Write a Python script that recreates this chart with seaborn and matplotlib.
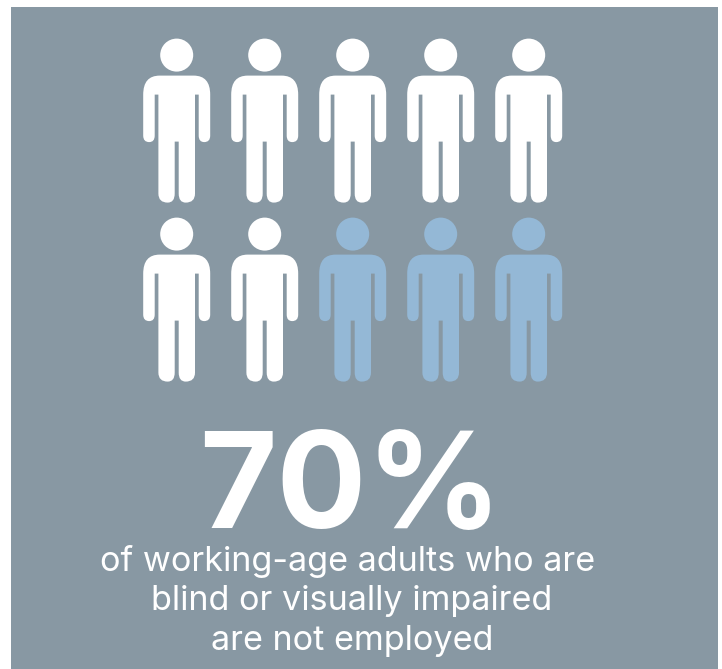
import matplotlib
matplotlib.use("Agg")
import matplotlib.pyplot as plt
from matplotlib.path import Path
import pandas as pd
import seaborn as sns

# Ten people, two rows of five
columns = [1, 2, 3, 4, 5, 1, 2, 3, 4, 5]
rows = [1, 1, 1, 1, 1, 2, 2, 2, 2, 2]
status = ["not employed"] * 7 + ["employed"] * 3
headline = "70%"
caption_lines = ["of working-age adults who are",
                 "blind or visually impaired",
                 "are not employed"]

W, H, DPI = 722, 669, 100
PANEL = "#8898a3"
colors = {"not employed": "#ffffff", "employed": "#94b8d6"}


def person_marker():
    """Standing figure, drawn in pixels around its own centre (y up)."""
    M, L, C, Z = Path.MOVETO, Path.LINETO, Path.CURVE3, Path.CLOSEPOLY
    outline = [
        (M, (-17, 45)), (L, (17, 45)),
        (C, (33.5, 45)), (C, (33.5, 26)),
        (L, (33.5, -15)),
        (C, (33.5, -21.5)), (C, (27.5, -21.5)),
        (C, (22, -21.5)), (C, (22, -15)),
        (L, (22, 26)), (L, (18.3, 26)),
        (L, (18.3, -73)),
        (C, (18.3, -82)), (C, (9, -82)),
        (C, (2, -82)), (C, (2, -73)),
        (L, (2, -21)), (L, (-2, -21)),
        (L, (-2, -73)),
        (C, (-2, -82)), (C, (-9, -82)),
        (C, (-18.3, -82)), (C, (-18.3, -73)),
        (L, (-18.3, 26)), (L, (-22, 26)),
        (L, (-22, -15)),
        (C, (-22, -21.5)), (C, (-27.5, -21.5)),
        (C, (-33.5, -21.5)), (C, (-33.5, -15)),
        (L, (-33.5, 26)),
        (C, (-33.5, 45)), (C, (-17, 45)),
        (Z, (-17, 45)),
    ]
    body = Path([p for _, p in outline], [c for c, _ in outline])
    head = Path.circle((0, 65.5), 16.5)
    return Path.make_compound_path(body, head)


people = pd.DataFrame({"column": columns, "row": rows, "status": status})

sns.set_theme(style="white")
plt.rcParams["font.family"] = ["Inter", "DejaVu Sans"]

fig = plt.figure(figsize=(W / DPI, H / DPI), dpi=DPI, facecolor="white")

# Panel spans x 11-718 and y 7-669 in pixels; the limits set the icon pitch
left, right, top, bottom = 11, 718, 7, 669
ax = fig.add_axes([left / W, 1 - bottom / H, (right - left) / W, (bottom - top) / H])
ax.set_facecolor(PANEL)
pitch_x, pitch_y = 88.0, 179.0
x0, y0 = 176.7, 120.6
ax.set_xlim(1 + (left - x0) / pitch_x, 1 + (right - x0) / pitch_x)
ax.set_ylim(1 + (bottom - y0) / pitch_y, 1 + (top - y0) / pitch_y)

icon_pts = 164 * 72 / DPI
sns.scatterplot(data=people, x="column", y="row", hue="status", palette=colors,
                marker=person_marker(), s=icon_pts ** 2, linewidth=0,
                legend=False, ax=ax, clip_on=False)
ax.set(xticks=[], yticks=[], xlabel="", ylabel="")
sns.despine(ax=ax, left=True, bottom=True)

fig.text(350.5 / W, 1 - 528 / H, headline, color="white", ha="center",
         va="baseline", fontsize=96, fontweight="bold")
for text, base, cx in zip(caption_lines, [571, 610, 650], [348, 352, 352]):
    fig.text(cx / W, 1 - base / H, text, color="white", ha="center",
             va="baseline", fontsize=24.6, fontweight="normal")

fig.savefig("out.png", dpi=DPI, facecolor="white")
